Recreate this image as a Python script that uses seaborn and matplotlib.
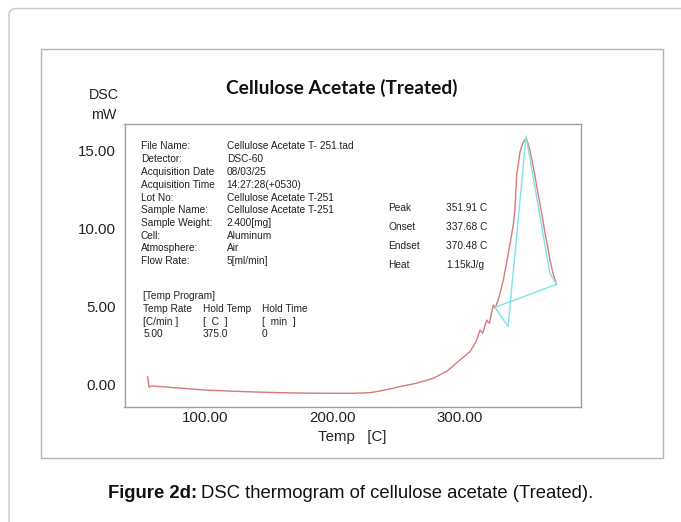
import matplotlib
matplotlib.use("Agg")
import matplotlib.pyplot as plt
import seaborn as sns
import pandas as pd
from matplotlib.patches import FancyBboxPatch, Rectangle
from matplotlib.ticker import MultipleLocator

# ---- data ----
temp = [55.1, 56.1, 58.2, 70, 85, 100, 120, 140, 158.8, 180, 200.6, 215, 229.4,
        237.3, 245, 252.9, 265, 279, 290, 300, 307.8, 311.8, 313.1, 315.7, 317.8,
        320.9, 323, 326.1, 327.5, 330, 334, 337.9, 341.8, 343.1, 344.5, 347.1,
        349.5, 351.8, 354, 356.2, 358.5, 361.4, 364, 366.7, 368.8, 370.6, 373, 375.8]
dsc = [0.49, -0.19, -0.11, -0.18, -0.28, -0.37, -0.44, -0.50, -0.54, -0.57, -0.58,
       -0.58, -0.54, -0.43, -0.30, -0.15, 0.05, 0.38, 0.85, 1.56, 2.09, 2.63, 2.84,
       3.48, 3.27, 4.12, 3.91, 5.09, 4.87, 5.41, 6.69, 8.4, 10.22, 11.29, 13.43,
       14.92, 15.5, 15.82, 15.3, 14.5, 13.5, 12.14, 11.0, 9.69, 8.8, 7.97, 7.1, 6.37]

# analysis construction lines (baseline / tangents)
tan_temp = [375.8, 327.5, 337.7, 351.8, 370.5, 375.8]
tan_dsc = [6.41, 4.94, 3.69, 15.93, 7.12, 6.41]

info_labels = ["File Name:", "Detector:", "Acquisition Date", "Acquisition Time",
               "Lot No:", "Sample Name:", "Sample Weight:", "Cell:", "Atmosphere:",
               "Flow Rate:"]
info_values = ["Cellulose Acetate T- 251.tad", "DSC-60", "08/03/25", "14:27:28(+0530)",
               "Cellulose Acetate T-251", "Cellulose Acetate T-251", "2.400[mg]",
               "Aluminum", "Air", "5[ml/min]"]

res_labels = ["Peak", "Onset", "Endset", "Heat"]
res_values = ["351.91 C", "337.68 C", "370.48 C", "1.15kJ/g"]

prog_rows = [["Temp Rate", "Hold Temp", "Hold Time"],
             ["[C/min ]", "[  C  ]", "[  min  ]"],
             ["5.00", "375.0", "0"]]

x_major = [100, 200, 300]
y_major = [0, 5, 10, 15]

# ---- figure ----
sns.set_style("white")
plt.rcParams['font.family'] = ['Liberation Sans', 'DejaVu Sans']

W, H = 681, 522
fig = plt.figure(figsize=(W / 100, H / 100), dpi=100)
fig.patch.set_facecolor("white")

def fx(px):
    return px / W

def fy(py):
    return 1 - py / H

# outer rounded frame (runs off right and bottom)
outer = FancyBboxPatch((fx(9), fy(540)), fx(700) - fx(9), fy(8.5) - fy(540),
                       boxstyle="round,pad=0,rounding_size=0.012",
                       transform=fig.transFigure, fill=False,
                       edgecolor="#c8c8c8", linewidth=1.0)
fig.patches.append(outer)
# inner frame
inner = Rectangle((fx(40.7), fy(458)), fx(663) - fx(40.7), fy(49) - fy(458),
                  transform=fig.transFigure, fill=False,
                  edgecolor="#b5b5b5", linewidth=1.0)
fig.patches.append(inner)

ax = fig.add_axes([fx(124.5), fy(406.7), fx(581) - fx(124.5), fy(124.3) - fy(406.7)])
ax.set_facecolor("white")

df = pd.DataFrame({"Temp": temp, "DSC": dsc})
sns.lineplot(data=df, x="Temp", y="DSC", ax=ax, color="#d8797d", linewidth=1.0)
dt = pd.DataFrame({"Temp": tan_temp, "DSC": tan_dsc})
sns.lineplot(data=dt, x="Temp", y="DSC", ax=ax, color="#7fe3e6", linewidth=1.0,
             sort=False, estimator=None)

ax.set_xlim(36.9, 394.9)
ax.set_ylim(-1.44, 16.68)
ax.set_xticks(x_major)
ax.set_xticklabels([f"{v:.2f}" for v in x_major])
ax.set_yticks(y_major)
ax.set_yticklabels([f"{v:.2f}" for v in y_major])
ax.xaxis.set_minor_locator(MultipleLocator(20))
ax.yaxis.set_minor_locator(MultipleLocator(1))
ax.tick_params(axis="both", which="major", labelsize=10.8, colors="#999999",
               labelcolor="#222222", direction="in", length=4, width=0.8, pad=3)
ax.tick_params(axis="both", which="minor", colors="#999999", direction="in",
               length=2, width=0.8)
ax.tick_params(axis="y", which="major", direction="out", length=3)
for s in ax.spines.values():
    s.set_color("#a0a0a0")
    s.set_linewidth(1.0)
    s.set_visible(True)
ax.set_xlabel("Temp   [C]", fontsize=10.8, color="#222222", labelpad=4)
ax.set_ylabel("")

# axis unit labels
fig.text(fx(104), fy(95), "DSC", ha="center", va="center", fontsize=10.3, color="#222222")
fig.text(fx(104), fy(115), "mW", ha="center", va="center", fontsize=10.3, color="#222222")

# title
fig.text(fx(342), fy(88), "Cellulose Acetate (Treated)", ha="center", va="center",
         fontsize=13.8, fontweight="bold", family=["Lato", "DejaVu Sans"],
         color="#111111")

# info block
info_y = [146, 159.3, 172.3, 185, 197.7, 210.3, 223.3, 236, 248.3, 261]
for lab, val, yy in zip(info_labels, info_values, info_y):
    fig.text(fx(140.7), fy(yy), lab, ha="left", va="center", fontsize=7.3, color="#222222")
    fig.text(fx(226.7), fy(yy), val, ha="left", va="center", fontsize=7.3, color="#222222")

# results block
res_y = [208.3, 227.3, 246, 265]
for lab, val, yy in zip(res_labels, res_values, res_y):
    fig.text(fx(388.3), fy(yy), lab, ha="left", va="center", fontsize=7.3, color="#222222")
    fig.text(fx(446), fy(yy), val, ha="left", va="center", fontsize=7.3, color="#222222")

# temp program block
fig.text(fx(143.3), fy(296), "[Temp Program]", ha="left", va="center", fontsize=7.3,
         color="#222222")
col_x = [143.3, 202.7, 261.7]
row_y = [309.3, 322.3, 334.3]
for row, yy in zip(prog_rows, row_y):
    for cell, xx in zip(row, col_x):
        fig.text(fx(xx), fy(yy), cell, ha="left", va="center", fontsize=7.3, color="#222222")

# caption: bold part + regular part
fig.canvas.draw()
r = fig.canvas.get_renderer()
t1 = fig.text(fx(108), fy(494), "Figure 2d:", ha="left", va="center", fontsize=13.3,
              fontweight="bold", color="#111111")
bb = t1.get_window_extent(renderer=r)
x2 = (bb.x1 + 4) / fig.bbox.width
fig.text(x2, fy(494), "DSC thermogram of cellulose acetate (Treated).", ha="left",
         va="center", fontsize=13.3, color="#111111")

fig.savefig("out.png", dpi=100, facecolor="white")
